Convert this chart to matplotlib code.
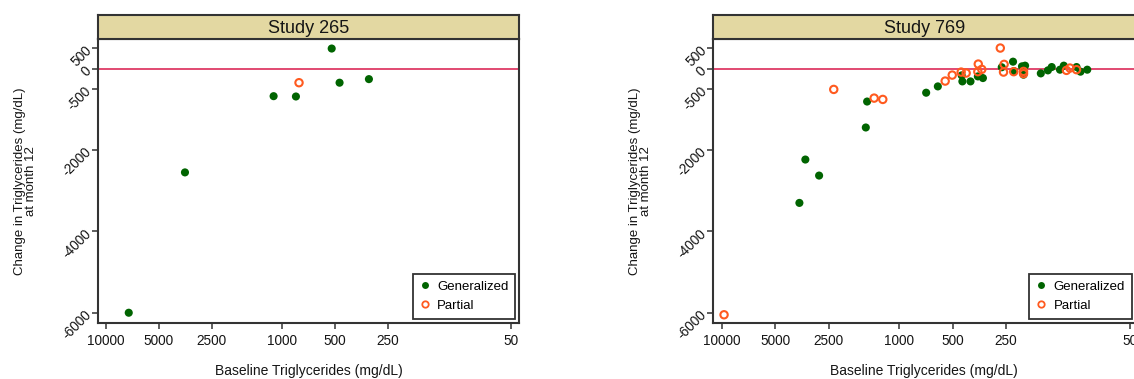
import matplotlib
matplotlib.use("Agg")
import matplotlib.pyplot as plt
from matplotlib.lines import Line2D

plt.rcParams['font.family'] = ['Liberation Sans', 'DejaVu Sans']

# Study 265: baseline TG (mg/dL) and change at month 12
gen265_x = [522, 471, 321, 1115, 833, 3550, 7400]
gen265_y = [495, -345, -257, -676, -684, -2550, -6000]
par265_x = [800]
par265_y = [-345]

# Study 769
gen769_x = [1515, 1541, 704, 605, 444, 440, 396, 360, 337, 264, 228, 203, 195,
            199, 225, 159, 145, 138, 124, 118, 100, 95, 87, 3377, 2825, 3648]
gen769_y = [-808, -1446, -591, -436, -165, -313, -313, -190, -231, 35, 172, 57, 74,
            -148, -60, -116, -42, 40, -25, 74, 40, -74, -25, -2234, -2628, -3300]
par769_x = [2336, 1383, 1236, 550, 502, 447, 419, 358, 360, 342, 269, 256, 258,
            226, 199, 199, 114, 109, 100, 9700]
par769_y = [-510, -724, -756, -305, -158, -84, -108, 113, -74, -17, 507, 106, -84,
            -74, -67, -123, -42, 15, -25, -6050]

xticks = [10000, 5000, 2500, 1000, 500, 250, 50]
yticks = [500, 0, -500, -2000, -4000, -6000]

GREEN = '#006400'
ORANGE = '#FF5A1F'
FRAME = '#333333'
STRIP = '#E3D8A2'
TEXT = '#151515'

fig = plt.figure(figsize=(11.34, 3.79), dpi=100)
W, H = 1134, 379


def panel(left_px, width_px, xlim, title, gx, gy, px, py):
    top, bottom = 39.3, 322.5
    ax = fig.add_axes([left_px / W, (H - bottom) / H, width_px / W, (bottom - top) / H])
    ax.axhline(0, color='#D8174A', lw=1.1, zorder=1)
    ax.scatter(gx, gy, s=34, color=GREEN, edgecolors='none', zorder=3)
    ax.scatter(px, py, s=28, facecolors='none', edgecolors=ORANGE, linewidths=1.5, zorder=3)
    ax.set_xscale('log')
    ax.set_xlim(*xlim)
    ax.set_ylim(-6240, 722)
    ax.set_xticks(xticks)
    ax.set_xticklabels([str(t) for t in xticks])
    ax.minorticks_off()
    ax.set_yticks(yticks)
    ax.set_yticklabels([str(t) for t in yticks], rotation=45, ha='right', va='center',
                       rotation_mode='anchor')
    ax.tick_params(axis='both', direction='out', length=4, width=1.1, color=FRAME,
                   labelsize=9.8, labelcolor=TEXT)
    ax.tick_params(axis='x', pad=4)
    ax.tick_params(axis='y', pad=2)
    for sp in ax.spines.values():
        sp.set_color(FRAME)
        sp.set_linewidth(1.5)
    ax.set_xlabel('Baseline Triglycerides (mg/dL)', fontsize=10, color=TEXT)
    ax.xaxis.set_label_coords(0.5, -0.145)
    ax.set_ylabel('Change in Triglycerides (mg/dL)\nat month 12', fontsize=9.5,
                  color=TEXT, linespacing=0.95)
    ax.yaxis.set_label_coords(-0.143, 0.5)

    handles = [Line2D([], [], ls='none', marker='o', ms=5, color=GREEN, mec='none'),
               Line2D([], [], ls='none', marker='o', ms=4.6, mfc='none', mec=ORANGE, mew=1.3)]
    leg = ax.legend(handles, ['Generalized', 'Partial'], loc='lower right', fontsize=9.5,
                    frameon=True, fancybox=False, borderaxespad=0.3, handlelength=0.8,
                    handletextpad=0.55, labelspacing=0.5, borderpad=0.5)
    leg.get_frame().set_edgecolor('black')
    leg.get_frame().set_linewidth(1.3)

    # title strip above the plot region
    strip = fig.add_axes([left_px / W, (H - top) / H, width_px / W, 24.3 / H])
    strip.set_facecolor(STRIP)
    strip.set_xticks([])
    strip.set_yticks([])
    for sp in strip.spines.values():
        sp.set_color(FRAME)
        sp.set_linewidth(1.5)
    strip.text(0.5, 0.45, title, ha='center', va='center', fontsize=13,
               color=TEXT, transform=strip.transAxes)
    return ax


panel(97.5, 421.8, (11130, 45), 'Study 265', gen265_x, gen265_y, par265_x, par265_y)
panel(712.7, 423.0, (11240, 46.4), 'Study 769', gen769_x, gen769_y, par769_x, par769_y)

fig.savefig('out.png', dpi=100)
